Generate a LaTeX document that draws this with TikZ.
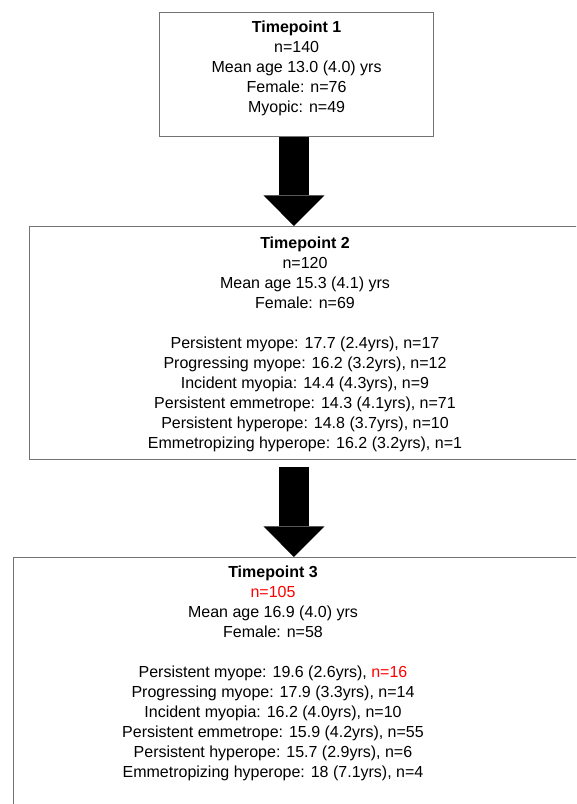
\documentclass[tikz,border=0pt]{standalone}
\usepackage{fontspec}
\setmainfont{Liberation Sans}
\usetikzlibrary{arrows.meta,positioning}

\begin{document}
\begin{tikzpicture}[>={Triangle[width=45.75pt,length=23pt,line width=0pt]}]
	\tikzset{frame/.style={draw=black!55, line width=.9pt, rectangle, anchor=north west, inner sep=0pt},
		info/.style={align=center, inner sep=0pt, anchor=north, font=\fontsize{12}{15}\selectfont},
		fat/.style={->, line width=22.5pt, draw=black},
	}
	\useasboundingbox (0,0) rectangle (432pt,-603pt);
	\clip (0,0) rectangle (432pt,-603pt);
	
	\node [frame, minimum width=205.5pt, minimum height=93pt] (t1) at (119.25pt,-9pt) {};
	\node [frame, minimum width=600pt, minimum height=174.75pt] (t2) at (21.75pt,-169.5pt) {};
	\node [frame, minimum width=600pt, minimum height=260pt] (t3) at (9.75pt,-417.75pt) {};
	
	\node [info, below=6.6pt of t1.north] (i1) {\textbf{Timepoint 1}\\ n=140\\ Mean age 13.0 (4.0) yrs\\ Female: n=76\\ Myopic: n=49};
	\node [info] (i2) at ([xshift=207pt,yshift=-8.1pt]t2.north west) {\textbf{Timepoint 2}\\ n=120\\ Mean age 15.3 (4.1) yrs\\ Female: n=69\\[15pt]
		Persistent myope: 17.7 (2.4yrs), n=17\\ Progressing myope: 16.2 (3.2yrs), n=12\\ Incident myopia: 14.4 (4.3yrs), n=9\\
		Persistent emmetrope: 14.3 (4.1yrs), n=71\\ Persistent hyperope: 14.8 (3.7yrs), n=10\\ Emmetropizing hyperope: 16.2 (3.2yrs), n=1};
	\node [info] (i3) at ([xshift=195pt,yshift=-6.7pt]t3.north west) {\textbf{Timepoint 3}\\ \textcolor{red}{n=105}\\ Mean age 16.9 (4.0) yrs\\ Female: n=58\\[15pt]
		Persistent myope: 19.6 (2.6yrs), \textcolor{red}{n=16}\\ Progressing myope: 17.9 (3.3yrs), n=14\\ Incident myopia: 16.2 (4.0yrs), n=10\\
		Persistent emmetrope: 15.9 (4.2yrs), n=55\\ Persistent hyperope: 15.7 (2.9yrs), n=6\\ Emmetropizing hyperope: 18 (7.1yrs), n=4};
	
	% block arrows between the timepoints
	\coordinate (a1) at ([xshift=-2pt]t1.south);
	\draw [fat] (a1) -- (a1 |- t2.north);
	\coordinate (a2) at ([yshift=-5.25pt]a1 |- t2.south);
	\draw [fat] (a2) -- (a2 |- t3.north);
\end{tikzpicture}
\end{document}
